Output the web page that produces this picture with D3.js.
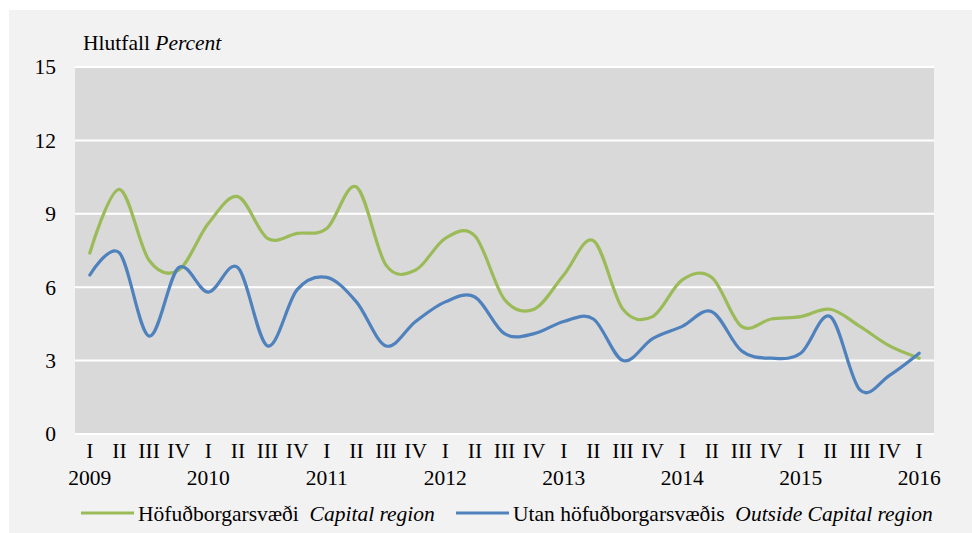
<!DOCTYPE html>
<html lang="is">
<head>
<meta charset="UTF-8">
<title>Hlutfall</title>
<script src="https://cdn.jsdelivr.net/npm/d3@7"></script>
<style>
  body { margin: 0; background: #ffffff; }
  svg text { font-family: "Liberation Serif", "Times New Roman", Tinos, "DejaVu Serif", serif; }
</style>
</head>
<body>
<svg class="chart"></svg>
<script>
// data
const years = ["2009", "2010", "2011", "2012", "2013", "2014", "2015", "2016"];
const quarters = ["I", "II", "III", "IV"];
const yTicks = [0, 3, 6, 9, 12, 15];

const capital = [7.4, 10.0, 7.1, 6.7, 8.6, 9.7, 8.0, 8.2, 8.4, 10.1, 6.9, 6.7, 8.0, 8.1,
                 5.5, 5.1, 6.5, 7.9, 5.1, 4.8, 6.3, 6.4, 4.4, 4.7, 4.8, 5.1, 4.4, 3.6, 3.1];
const outside = [6.5, 7.4, 4.0, 6.8, 5.8, 6.8, 3.6, 5.9, 6.4, 5.4, 3.6, 4.6, 5.4, 5.6,
                 4.1, 4.1, 4.6, 4.7, 3.0, 3.9, 4.4, 5.0, 3.4, 3.1, 3.3, 4.8, 1.8, 2.4, 3.3];

const seriesNames = [
  { is: "Höfuðborgarsvæði", en: "Capital region", color: "#9bbb59", values: capital },
  { is: "Utan höfuðborgarsvæðis", en: "Outside Capital region", color: "#4f81bd", values: outside }
];

// periods: 2009 I .. 2016 I
const periods = [];
years.forEach((y, yi) => {
  quarters.forEach((q, qi) => {
    if (periods.length < capital.length) periods.push({ key: y + q, year: y, q: q, qi: qi });
  });
});

// layout
const width = 972, height = 533;
const plot = { left: 75, right: 934, top: 67, bottom: 434 };
const fontSize = 21.5;

const svg = d3.select(".chart").attr("width", width).attr("height", height);

// outer panel
svg.append("rect")
  .attr("x", 9).attr("y", 10)
  .attr("width", width - 9).attr("height", height - 10)
  .attr("fill", "#f2f2f2");

const x = d3.scaleBand()
  .domain(periods.map(d => d.key))
  .range([plot.left, plot.right]);

const y = d3.scaleLinear()
  .domain([0, 15])
  .range([plot.bottom, plot.top]);

// plot background
svg.append("rect")
  .attr("x", plot.left).attr("y", plot.top)
  .attr("width", plot.right - plot.left).attr("height", plot.bottom - plot.top)
  .attr("fill", "#d9d9d9");

// gridlines
svg.append("g")
  .selectAll("line")
  .data(yTicks)
  .join("line")
  .attr("x1", plot.left).attr("x2", plot.right)
  .attr("y1", d => y(d)).attr("y2", d => y(d))
  .attr("stroke", "#ffffff")
  .attr("stroke-width", 2);

// y axis labels
const yAxis = svg.append("g")
  .attr("transform", `translate(${plot.left},0)`)
  .call(d3.axisLeft(y).tickValues(yTicks).tickSize(0).tickPadding(19));
yAxis.attr("font-family", null).attr("font-size", null);
yAxis.select(".domain").remove();
yAxis.selectAll("text")
  .attr("font-size", fontSize)
  .attr("fill", "#000");

// y title
const yTitle = svg.append("text")
  .attr("x", 83).attr("y", 50)
  .attr("font-size", fontSize)
  .attr("fill", "#000");
yTitle.append("tspan").text("Hlutfall ");
yTitle.append("tspan").attr("font-style", "italic").text("Percent");

// x axis: quarter labels
const xAxis = svg.append("g")
  .attr("transform", `translate(0,${plot.bottom})`)
  .call(d3.axisBottom(x).tickSize(0).tickPadding(0).tickFormat(k => periods.find(p => p.key === k).q));
xAxis.attr("font-family", null).attr("font-size", null);
xAxis.select(".domain").remove();
xAxis.selectAll("text")
  .attr("font-size", fontSize)
  .attr("fill", "#000")
  .attr("dy", null)
  .attr("y", 24);

// year labels
svg.append("g")
  .selectAll("text")
  .data(periods.filter(p => p.qi === 0))
  .join("text")
  .attr("x", d => x(d.key) + x.bandwidth() / 2)
  .attr("y", 485)
  .attr("text-anchor", "middle")
  .attr("font-size", fontSize)
  .attr("fill", "#000")
  .text(d => d.year);

// lines
const line = d3.line()
  .x((d, i) => x(periods[i].key) + x.bandwidth() / 2)
  .y(d => y(d))
  .curve(d3.curveCardinal.tension(0));

svg.append("g")
  .selectAll("path")
  .data(seriesNames)
  .join("path")
  .attr("d", d => line(d.values))
  .attr("fill", "none")
  .attr("stroke", d => d.color)
  .attr("stroke-width", 3.2)
  .attr("stroke-linecap", "round");

// legend
const legendX = [81, 456];
const legend = svg.append("g")
  .selectAll("g")
  .data(seriesNames)
  .join("g")
  .attr("transform", (d, i) => `translate(${legendX[i]},513)`);

legend.append("line")
  .attr("x1", 0).attr("x2", 53)
  .attr("stroke", d => d.color)
  .attr("stroke-width", 3.2);

const lt = legend.append("text")
  .attr("x", 57).attr("y", 8)
  .attr("font-size", fontSize)
  .attr("fill", "#000");
lt.append("tspan").text(d => d.is + "\u00a0\u00a0");
lt.append("tspan").attr("font-style", "italic").text(d => d.en);
</script>
</body>
</html>
